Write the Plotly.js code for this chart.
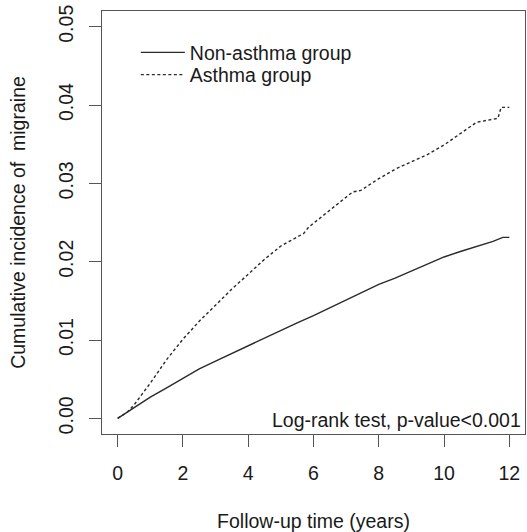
<!DOCTYPE html>
<html>
<head>
<meta charset="utf-8">
<script src="https://cdn.plot.ly/plotly-3.0.1.min.js"></script>
<style>html,body{margin:0;padding:0;background:#fff;}#chart{width:527px;height:532px;}</style>
</head>
<body>
<div id="chart"></div>
<script>
// Non-asthma group (solid)
var timeNonAsthma = [0, 0.5, 1, 1.5, 2, 2.5, 3, 3.5, 4, 4.5, 5, 5.5, 6, 6.5, 7, 7.5, 8, 8.5, 9, 9.5, 10, 10.5, 11, 11.5, 11.8, 12];
var cumNonAsthma  = [0, 0.0014, 0.0027, 0.0039, 0.0051, 0.0063, 0.0073, 0.0083, 0.0093, 0.0103, 0.0112, 0.0122, 0.0131, 0.0141, 0.0151, 0.0161, 0.0171, 0.0179, 0.0188, 0.0198, 0.0206, 0.0213, 0.0219, 0.0226, 0.0231, 0.0231];
// Asthma group (dashed)
var timeAsthma = [0, 0.3, 0.5, 1, 1.5, 2, 2.5, 3, 3.5, 4, 4.5, 5, 5.5, 5.7, 5.85, 6, 6.5, 7, 7.2, 7.45, 8, 8.5, 9, 9.5, 10, 10.5, 11, 11.65, 11.75, 12];
var cumAsthma  = [0, 0.0008, 0.0017, 0.0045, 0.0075, 0.0101, 0.0124, 0.0145, 0.0165, 0.0184, 0.0203, 0.0220, 0.0232, 0.0236, 0.0244, 0.0249, 0.0266, 0.0283, 0.0289, 0.0291, 0.0306, 0.0318, 0.0328, 0.0337, 0.0349, 0.0363, 0.0378, 0.0383, 0.0397, 0.0397];

var xTicks = [0, 2, 4, 6, 8, 10, 12];
var yTicks = [0, 0.01, 0.02, 0.03, 0.04, 0.05];
var yTickLabels = ["0.00", "0.01", "0.02", "0.03", "0.04", "0.05"];
var seriesNames = ["Non-asthma group", "Asthma group"];

var FONT = "Liberation Sans, Arial, sans-serif";
var TXT = "#1a1a1a";
var FS = 19.5;

var traces = [
  {x: timeNonAsthma, y: cumNonAsthma, name: seriesNames[0], type: "scatter", mode: "lines", legend: "legend",
   line: {color: "#2a2a2a", width: 1.4, dash: "solid"}},
  {x: timeAsthma, y: cumAsthma, name: seriesNames[1], type: "scatter", mode: "lines", legend: "legend2",
   line: {color: "#2a2a2a", width: 1.4, dash: "3px,2.5px"}}
];

function legendAt(yPos) {
  return {x: 0.08, y: yPos, xanchor: "left", yanchor: "middle", bgcolor: "rgba(0,0,0,0)",
          itemwidth: 44, font: {family: FONT, size: FS, color: TXT}};
}

var layout = {
  width: 527, height: 532,
  margin: {l: 102, r: 1.5, t: 11, b: 98},
  paper_bgcolor: "#fff", plot_bgcolor: "#fff",
  font: {family: FONT, size: FS, color: TXT},
  showlegend: true,
  legend: legendAt(0.9014),
  legend2: legendAt(0.8487),
  xaxis: {
    range: [-0.48, 12.48], tickmode: "array", tickvals: xTicks, ticktext: xTicks.map(String),
    showgrid: false, zeroline: false, showline: true, mirror: true, linecolor: "#555", linewidth: 1,
    ticks: "outside", ticklen: 12, tickcolor: "#555", tickwidth: 1, ticklabelstandoff: 10,
    tickfont: {family: FONT, size: FS, color: TXT},
    title: {text: "Follow-up time (years)", font: {family: FONT, size: FS, color: TXT}, standoff: 33}
  },
  yaxis: {
    range: [-0.002, 0.052], tickmode: "array", tickvals: yTicks, ticktext: yTickLabels, tickangle: -90,
    showgrid: false, zeroline: false, showline: true, mirror: true, linecolor: "#555", linewidth: 1,
    ticks: "outside", ticklen: 12, tickcolor: "#555", tickwidth: 1, ticklabelstandoff: 8,
    tickfont: {family: FONT, size: FS, color: TXT},
    title: {text: "Cumulative incidence of  migraine", font: {family: FONT, size: FS, color: TXT}, standoff: 24}
  },
  annotations: [{
    text: "Log-rank test, p-value<0.001", xref: "paper", yref: "paper", x: 1, y: 0.032,
    xanchor: "right", yanchor: "middle", xshift: -2, showarrow: false,
    font: {family: FONT, size: FS, color: TXT}
  }]
};

Plotly.newPlot("chart", traces, layout, {displayModeBar: false, staticPlot: true});
</script>
</body>
</html>
